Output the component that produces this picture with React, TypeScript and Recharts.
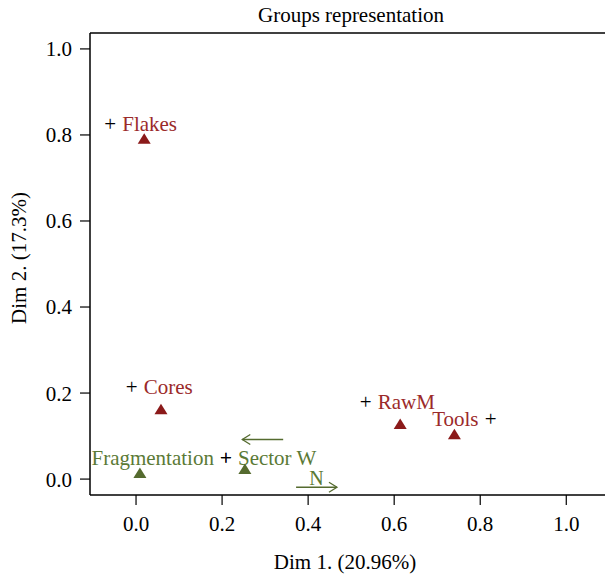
import { ReferenceLine, Scatter, ScatterChart, XAxis, YAxis } from 'recharts';

const FONT = '"Liberation Serif", "DejaVu Serif", serif';
const RED = '#8b1a1a';
const GREEN = '#556b2f';

// triangles: group coordinates
const groups = [
  { name: 'Flakes', x: 0.019, y: 0.79, kind: 'red' },
  { name: 'Cores', x: 0.058, y: 0.161, kind: 'red' },
  { name: 'RawM', x: 0.614, y: 0.127, kind: 'red' },
  { name: 'Tools', x: 0.74, y: 0.103, kind: 'red' },
  { name: 'Fragmentation', x: 0.009, y: 0.013, kind: 'green' },
  { name: 'Sector W', x: 0.253, y: 0.022, kind: 'green' },
];

// "+" markers with their labels
const labels = [
  { text: 'Flakes', x: -0.06, y: 0.826, side: 'right', kind: 'red' },
  { text: 'Cores', x: -0.01, y: 0.214, side: 'right', kind: 'red' },
  { text: 'RawM', x: 0.534, y: 0.18, side: 'right', kind: 'red' },
  { text: 'Tools', x: 0.824, y: 0.14, side: 'left', kind: 'red' },
  { text: 'Fragmentation', x: 0.209, y: 0.05, side: 'left', kind: 'green' },
  { text: 'Sector W', x: 0.209, y: 0.05, side: 'right', kind: 'green' },
];

// arrows [from, to] with optional caption
const arrows = [
  { x1: 0.342, y1: 0.092, x2: 0.247, y2: 0.092, text: '' },
  { x1: 0.372, y1: -0.019, x2: 0.467, y2: -0.019, text: 'N' },
];

const xTicks = [0, 0.2, 0.4, 0.6, 0.8, 1.0];
const yTicks = [0, 0.2, 0.4, 0.6, 0.8, 1.0];

const FS = 21;

function Triangle(props: any) {
  const { cx, cy, payload } = props;
  const fill = payload.kind === 'red' ? RED : GREEN;
  const w = 6.5;
  return <path d={`M${cx - w},${cy + 4.5} L${cx + w},${cy + 4.5} L${cx},${cy - 6} Z`} fill={fill} />;
}

function PlusLabel(props: any) {
  const { cx, cy, payload } = props;
  const fill = payload.kind === 'red' ? '#9b2a2a' : '#5b7a36';
  const right = payload.side === 'right';
  return (
    <g fontFamily={FONT} fontSize={FS}>
      <text x={cx} y={cy} textAnchor="middle" dominantBaseline="central" fill="#000">+</text>
      <text
        x={right ? cx + 12 : cx - 12}
        y={cy}
        textAnchor={right ? 'start' : 'end'}
        dominantBaseline="central"
        fill={fill}
      >
        {payload.text}
      </text>
    </g>
  );
}

function Arrow(props: any) {
  const { x1, y1, x2, y2, text } = props;
  const dir = x2 > x1 ? 1 : -1;
  return (
    <g>
      <line x1={x1} y1={y1} x2={x2} y2={y2} stroke={GREEN} strokeWidth={1.3} />
      <polyline
        points={`${x2 - dir * 8},${y2 - 5} ${x2},${y2} ${x2 - dir * 8},${y2 + 5}`}
        fill="none"
        stroke={GREEN}
        strokeWidth={1.3}
      />
      {text ? (
        <text x={(x1 + x2) / 2} y={y1 - 9} textAnchor="middle" dominantBaseline="central" fontFamily={FONT} fontSize={FS - 1} fill="#5b7a36">
          {text}
        </text>
      ) : null}
    </g>
  );
}

const tickStyle = { fill: '#000', fontSize: FS, fontFamily: FONT };

export default function App() {
  return (
    <div style={{ position: 'absolute', left: 0, top: 0, width: 605, height: 576, background: '#fff' }}>
      <ScatterChart width={605} height={576} margin={{ top: 33, right: 0, bottom: 0, left: 0 }}>
        <text x={351} y={15} textAnchor="middle" dominantBaseline="central" fontFamily={FONT} fontSize={FS} fill="#000">
          Groups representation
        </text>
        <text
          x={19}
          y={258}
          transform="rotate(-90 19 258)"
          textAnchor="middle"
          dominantBaseline="central"
          fontFamily={FONT}
          fontSize={FS}
          fill="#000"
        >
          Dim 2. (17.3%)
        </text>
        <text x={345} y={562} textAnchor="middle" dominantBaseline="central" fontFamily={FONT} fontSize={FS} fill="#000">
          Dim 1. (20.96%)
        </text>
        <XAxis
          type="number"
          dataKey="x"
          domain={[-0.107, 1.09]}
          allowDataOverflow
          ticks={xTicks}
          tickFormatter={(v: number) => v.toFixed(1)}
          axisLine={{ stroke: '#000', strokeWidth: 1.5 }}
          tickLine={{ stroke: '#000', strokeWidth: 1.2 }}
          tickSize={10}
          tickMargin={11}
          tick={tickStyle}
          height={81}
        />
        <YAxis
          type="number"
          dataKey="y"
          domain={[-0.037, 1.037]}
          allowDataOverflow
          ticks={yTicks}
          tickFormatter={(v: number) => v.toFixed(1)}
          axisLine={{ stroke: '#000', strokeWidth: 1.5 }}
          tickLine={{ stroke: '#000', strokeWidth: 1.2 }}
          tickSize={10}
          tickMargin={8}
          tick={tickStyle}
          width={90}
        />
        <ReferenceLine y={1.037} stroke="#000" strokeWidth={1.5} ifOverflow="extendDomain" />
        {arrows.map((a, i) => (
          <ReferenceLine
            key={i}
            segment={[
              { x: a.x1, y: a.y1 },
              { x: a.x2, y: a.y2 },
            ]}
            ifOverflow="visible"
            shape={(p: any) => <Arrow {...p} text={a.text} />}
          />
        ))}
        <Scatter data={labels} shape={<PlusLabel />} isAnimationActive={false} />
        <Scatter data={groups} shape={<Triangle />} isAnimationActive={false} />
      </ScatterChart>
    </div>
  );
}
